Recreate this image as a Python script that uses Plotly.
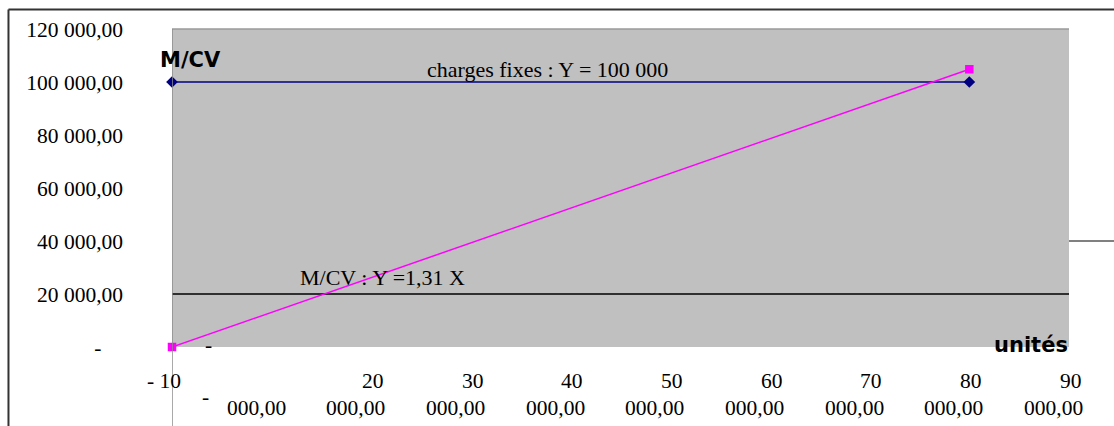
import plotly.graph_objects as go

# Units sold (x) and amounts (y)
fixed_x = [0, 80000]
fixed_y = [100000, 100000]          # charges fixes : Y = 100 000
mcv_x = [0, 80000]
mcv_y = [0, 104800]                 # M/CV : Y = 1,31 X
ref_x = [0, 90000]
ref_y = [20000, 20000]

y_tick_vals = [0, 20000, 40000, 60000, 80000, 100000, 120000]
y_tick_text = ["-&nbsp;&nbsp;&nbsp;&nbsp;", "20 000,00", "40 000,00", "60 000,00",
               "80 000,00", "100 000,00", "120 000,00"]

x_tick_vals = [0, 10000, 20000, 30000, 40000, 50000, 60000, 70000, 80000, 90000]
x_label_top = ["- 10", "", "20", "30", "40", "50", "60", "70", "80", "90"]
x_label_bottom = ["", "000,00", "000,00", "000,00", "000,00", "000,00",
                  "000,00", "000,00", "000,00", "000,00"]

NUM_FONT = dict(family="Liberation Serif", size=21.5, color="black")
SERIF_FONT = dict(family="Liberation Serif", size=22, color="black")
BOLD_FONT = dict(family="DejaVu Sans", size=21, color="black", weight="bold")

fig = go.Figure()

fig.add_trace(go.Scatter(
    x=ref_x, y=ref_y, mode="lines",
    line=dict(color="black", width=1.5),
    showlegend=False, hoverinfo="skip"))

fig.add_trace(go.Scatter(
    x=fixed_x, y=fixed_y, mode="lines+markers",
    line=dict(color="#000080", width=1.5),
    marker=dict(symbol="diamond", size=9, color="#000080"),
    cliponaxis=False, showlegend=False, name="charges fixes"))

fig.add_trace(go.Scatter(
    x=mcv_x, y=mcv_y, mode="lines+markers",
    line=dict(color="#FF00FF", width=1.5),
    marker=dict(symbol="square", size=8.5, color="#FF00FF"),
    cliponaxis=False, showlegend=False, name="M/CV"))

annotations = []

# x-axis labels: two right-aligned lines under each tick
for v, top, bottom in zip(x_tick_vals, x_label_top, x_label_bottom):
    if top:
        shift = 11 if v == 0 else 14.5
        annotations.append(dict(
            x=v, y=0, xref="x", yref="y", text=top, showarrow=False,
            xanchor="right", yanchor="middle", xshift=shift, yshift=-34,
            font=NUM_FONT))
    if bottom:
        annotations.append(dict(
            x=v, y=0, xref="x", yref="y", text=bottom, showarrow=False,
            xanchor="right", yanchor="middle", xshift=16, yshift=-61,
            font=NUM_FONT))

# stray dashes of the zero labels
annotations.append(dict(x=0, y=0, xref="x", yref="y", text="-", showarrow=False,
                        xanchor="center", yanchor="middle", xshift=36, yshift=2,
                        font=NUM_FONT))
annotations.append(dict(x=0, y=0, xref="x", yref="y", text="-", showarrow=False,
                        xanchor="center", yanchor="middle", xshift=33, yshift=-50,
                        font=NUM_FONT))

# series labels
annotations.append(dict(x=0.4186, y=fixed_y[0], xref="paper", yref="y",
                        text="charges fixes : Y = 100 000", showarrow=False,
                        xanchor="center", yanchor="middle", yshift=13,
                        font=SERIF_FONT))
annotations.append(dict(x=0.2346, y=ref_y[0], xref="paper", yref="y",
                        text="M/CV : Y =1,31 X", showarrow=False,
                        xanchor="center", yanchor="middle", yshift=17,
                        font=SERIF_FONT))

# axis titles
annotations.append(dict(x=0, y=1, xref="paper", yref="paper", text="M/CV",
                        showarrow=False, xanchor="center", yanchor="middle",
                        xshift=18, yshift=-31, font=BOLD_FONT))
annotations.append(dict(x=1, y=0, xref="paper", yref="paper", text="unités",
                        showarrow=False, xanchor="right", yanchor="middle",
                        xshift=1, yshift=2, font=BOLD_FONT))

shapes = [
    # outer chart frame
    dict(type="line", xref="paper", yref="paper", x0=-0.1823, x1=1.2,
         y0=1.0613, y1=1.0613, line=dict(color="#333333", width=2)),
    dict(type="line", xref="paper", yref="paper", x0=-0.1823, x1=-0.1823,
         y0=-0.5, y1=1.0613, line=dict(color="#333333", width=2)),
    # plot area top edge
    dict(type="line", xref="paper", yref="paper", x0=0, x1=1, y0=1, y1=1,
         line=dict(color="#9a9a9a", width=1.5)),
    # vertical axis line, running down through the labels
    dict(type="line", xref="x", yref="paper", x0=0, x1=0, y0=-0.3, y1=1,
         line=dict(color="#8c8c8c", width=1.5), layer="above"),
    # short gridline stub at the right
    dict(type="line", xref="paper", yref="y", x0=1, x1=1.1, y0=40000, y1=40000,
         line=dict(color="#808080", width=2)),
]

fig.update_layout(
    width=1114, height=426,
    margin=dict(l=172, r=45, t=29, b=79),
    paper_bgcolor="white",
    plot_bgcolor="#C0C0C0",
    annotations=annotations,
    shapes=shapes,
    xaxis=dict(range=[0, 90000], showgrid=False, zeroline=False,
               showticklabels=False, ticks="", showline=False),
    yaxis=dict(range=[0, 120000], showgrid=False, zeroline=False,
               tickvals=y_tick_vals, ticktext=y_tick_text, ticks="",
               tickfont=NUM_FONT, ticklabelstandoff=48, showline=False),
)

fig.write_html("out.html")
